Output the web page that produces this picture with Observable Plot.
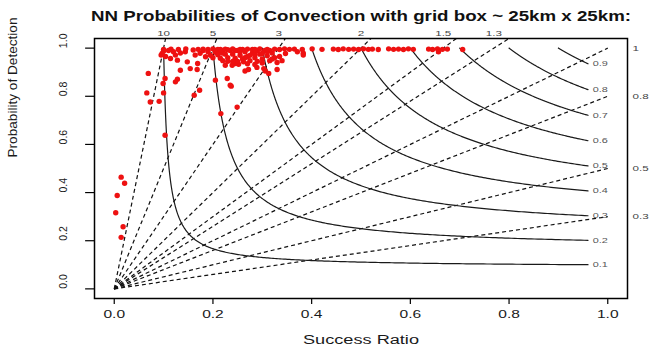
<!DOCTYPE html>
<html><head><meta charset="utf-8">
<script src="https://cdn.jsdelivr.net/npm/d3@7"></script>
<script src="https://cdn.jsdelivr.net/npm/@observablehq/plot@0.6"></script>
<style>body{margin:0;background:#fff} svg{display:block}</style>
</head><body><div id="chart"></div>
<script>
const title = "NN Probabilities of Convection with grid box ~ 25km x 25km:";
const xLabel = "Success Ratio";
const yLabel = "Probability of Detection";
const xTicks = [0, 0.2, 0.4, 0.6, 0.8, 1.0];
const yTicks = [0, 0.2, 0.4, 0.6, 0.8, 1.0];
const csiLevels = [0.1, 0.2, 0.3, 0.4, 0.5, 0.6, 0.7, 0.8, 0.9];
const biasLevels = [0.3, 0.5, 0.8, 1, 1.3, 1.5, 2, 3, 5, 10];

const srPoints = [
  0.014,0.021,0.006,0.003,0.018,0.014,
  0.103,0.066,0.100,0.073,0.091,0.069,0.099,0.103,0.128,0.124,0.134,0.154,0.168,0.169,0.173,0.162,0.205,0.229,0.237,0.216,0.249,
  0.114,0.128,0.148,0.124,0.164,0.185,0.104,0.095,0.174,0.134,0.144,0.160,0.097,0.100,0.205,0.213,0.219,0.110,0.120,
  0.225,0.239,0.252,0.272,0.289,0.306,0.313,0.330,0.303,0.265,0.245,0.262,0.235,
  0.205,0.210,0.215,0.220,0.225,0.230,0.235,0.240,0.245,0.250,0.255,0.260,0.265,0.270,0.275,0.280,0.285,0.290,0.295,0.300,0.305,0.310,0.315,0.320,0.325,0.330,0.250,0.270,0.285,0.300,0.240,0.220,0.260,0.280,0.300,0.315,0.335,0.340,0.230,0.255,0.275,0.290,0.310,0.245,0.265,0.285,0.320,0.210,0.195,0.190,0.180,0.200,
  0.100,0.115,0.130,0.145,0.170,0.180,0.190,0.200,0.215,0.225,0.230,0.240,0.255,0.270,0.285,0.295,0.310,0.325,0.335,0.345,0.355,0.365,0.381,0.401,0.421,0.444,0.454,0.464,0.475,0.485,0.495,0.505,0.515,0.523,0.535,0.556,0.566,0.576,0.586,0.596,0.606,0.637,0.645,0.655,0.665,0.675,0.706,
  0.657,0.383,0.347,0.383,0.371
];
const podPoints = [
  0.464,0.439,0.388,0.316,0.258,0.214,
  0.638,0.814,0.814,0.776,0.779,0.895,0.853,0.874,0.871,0.860,0.908,0.915,0.911,0.936,0.825,0.804,0.867,0.874,0.842,0.728,0.755,
  0.957,0.950,0.943,0.971,0.971,0.964,0.965,0.971,0.979,0.980,0.985,0.992,0.978,0.988,0.983,0.985,0.980,0.990,0.985,
  0.929,0.929,0.933,0.911,0.920,0.905,0.895,0.911,0.915,0.905,0.936,0.943,0.846,
  0.990,0.972,0.958,0.990,0.975,0.960,0.990,0.975,0.958,0.990,0.970,0.955,0.985,0.965,0.948,0.980,0.960,0.945,0.975,0.955,0.990,0.968,0.948,0.980,0.960,0.940,0.945,0.935,0.932,0.938,0.945,0.948,0.995,0.995,0.978,0.990,0.965,0.948,0.945,0.985,0.970,0.990,0.985,0.990,0.960,0.975,0.955,0.995,0.970,0.985,0.990,0.960,
  0.995,0.996,0.994,0.997,0.995,0.996,0.994,0.997,0.995,0.996,0.993,0.997,0.995,0.996,0.994,0.997,0.995,0.996,0.994,0.997,0.995,0.996,0.994,0.997,0.995,0.996,0.994,0.997,0.995,0.996,0.994,0.997,0.995,0.996,0.994,0.997,0.995,0.996,0.994,0.997,0.995,0.996,0.994,0.997,0.995,0.996,0.994,
  0.985,0.979,0.978,0.971,0.985
];

const points = srPoints.map((sr, i) => ({sr, pod: podPoints[i]}));
const csiPod = (c, sr) => 1 / (1 / c + 1 - 1 / sr);
const csiCurves = csiLevels.flatMap(c => d3.range(0, 301).map(i => {
  const sr = c + (0.96 - c) * Math.pow(i / 300, 3);
  return {c, sr, pod: csiPod(c, sr)};
}));
const biasEnd = b => Math.min(1, 1.04 / b);

const sans = "Liberation Sans, Arial, sans-serif";
const ink = "#1a1a1a";
const tag = name => () => name;

const chart = Plot.plot({
  width: 651, height: 347,
  marginLeft: 94, marginRight: 24, marginTop: 38, marginBottom: 49,
  x: {domain: [-0.04, 1.04], axis: null},
  y: {domain: [-0.04, 1.04], axis: null},
  style: {fontFamily: sans, background: "#fff"},
  marks: [
    Plot.link(biasLevels, {x1: 0, y1: 0, x2: b => biasEnd(b), y2: b => b * biasEnd(b),
      stroke: "#111", strokeWidth: 1.2, strokeDasharray: "4,3"}),
    Plot.line(csiCurves, {x: "sr", y: "pod", z: "c", stroke: "#1a1a1a", strokeWidth: 1.2}),
    Plot.text(csiLevels, {ariaLabel: tag("small"), x: 0.985, y: c => csiPod(c, 0.96), text: c => String(c),
      fontSize: 7.5, fill: "#555"}),
    Plot.text(biasLevels.filter(b => b > 1), {ariaLabel: tag("small"), x: b => 1 / b, frameAnchor: "top", dy: -8,
      text: b => String(b), fontSize: 8, fill: "#444"}),
    Plot.text(biasLevels.filter(b => b <= 1), {ariaLabel: tag("small"), y: b => b, frameAnchor: "right", dx: 5,
      textAnchor: "start", text: b => String(b), fontSize: 8, fill: "#444"}),
    Plot.dot(points, {x: "sr", y: "pod", r: 2.7, fill: "#ee1111", stroke: "none"}),
    Plot.frame({stroke: "#000", strokeWidth: 1.5}),
    Plot.ruleX(xTicks, {y1: -0.04, y2: -0.065, stroke: "#000", strokeWidth: 1.2}),
    Plot.text(xTicks, {ariaLabel: tag("xtick"), x: d => d, frameAnchor: "bottom", dy: 19,
      text: d => d.toFixed(1), fontSize: 10, fill: ink}),
    Plot.ruleY(yTicks, {x1: -0.04, x2: -0.058, stroke: "#000", strokeWidth: 1.2}),
    Plot.text(yTicks, {frameAnchor: "left", y: d => d, dx: -31, rotate: -90,
      text: d => d.toFixed(1), fontSize: 10.5, fill: ink}),
    Plot.text([yLabel], {ariaLabel: tag("ylabel"), frameAnchor: "left", dx: -82, dy: -11, rotate: -90,
      text: d => d, fontSize: 12.5, fill: ink}),
    Plot.text([xLabel], {ariaLabel: tag("xlabel"), frameAnchor: "bottom", dy: 45, text: d => d, fontSize: 12, fill: ink}),
    Plot.text([title], {ariaLabel: tag("title"), frameAnchor: "top", dy: -27, text: d => d, fontSize: 14,
      fontWeight: "bold", fill: "#111"})
  ]
});
document.getElementById("chart").appendChild(chart);

function fitWidth(sel, fn) {
  sel.each(function() {
    const L = this.getComputedTextLength();
    if (L > 0) {
      this.setAttribute("textLength", fn(L).toFixed(1));
      this.setAttribute("lengthAdjust", "spacingAndGlyphs");
    }
  });
}
const svg = d3.select(chart);
fitWidth(svg.selectAll('[aria-label="title"]'), () => 540);
fitWidth(svg.selectAll('[aria-label="xlabel"]'), () => 116);
fitWidth(svg.selectAll('[aria-label="ylabel"]'), () => 140);
fitWidth(svg.selectAll('[aria-label="xtick"]'), L => L * 1.55);
fitWidth(svg.selectAll('[aria-label="small"]'), L => L * 1.45);
</script>
</body></html>
